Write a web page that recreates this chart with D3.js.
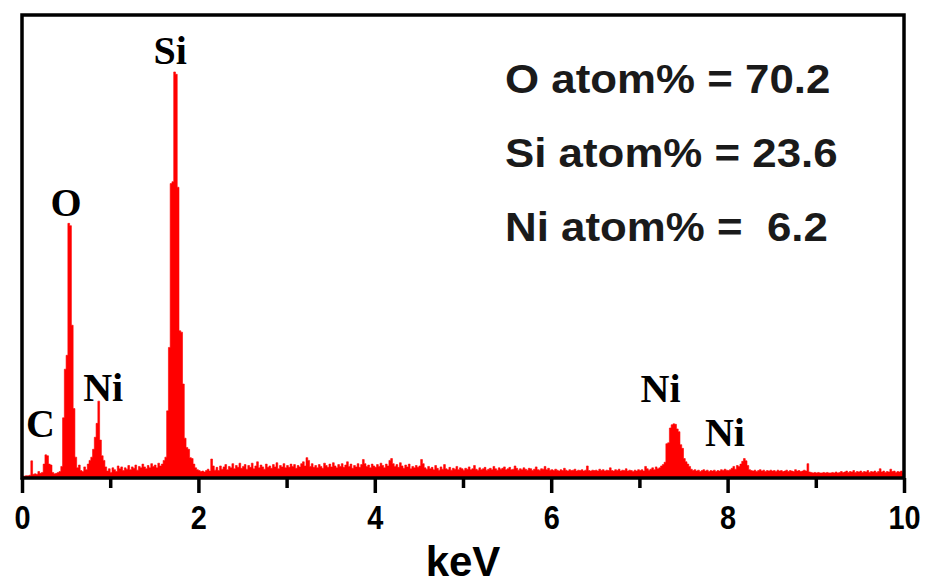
<!DOCTYPE html>
<html>
<head>
<meta charset="utf-8">
<script src="https://cdn.jsdelivr.net/npm/d3@7"></script>
<style>
  body { margin: 0; background: #fff; }
  svg { display: block; }
  .tick text { font-family: "Liberation Sans", Arial, sans-serif; font-weight: bold; }
</style>
</head>
<body>
<div id="chart"></div>
<script>
// EDS spectrum, counts per 0.02 keV channel
var channelWidth = 0.02;
var counts = [
  // 0.00 - 0.48
  4, 4, 5, 5, 6, 37, 8, 9, 8, 14, 10, 12, 30, 50, 48, 30, 28, 12, 9, 10, 12, 14, 25, 130, 235,
  // 0.50 - 0.98
  265, 550, 545, 330, 150, 45, 22, 28, 16, 14, 24, 18, 30, 38, 45, 62, 88, 118, 166, 82, 48, 38, 24, 15, 20,
  // 1.00 - 1.48
  12, 22, 18, 14, 26, 20, 24, 16, 22, 19, 27, 18, 24, 21, 28, 17, 25, 22, 30, 24, 20, 27, 22, 31, 25,
  // 1.50 - 1.98
  28, 22, 32, 26, 30, 38, 45, 145, 282, 636, 640, 877, 872, 628, 318, 315, 203, 86, 66, 62, 44, 42, 30, 22, 18,
  // 2.00 - 2.48
  16, 14, 15, 13, 16, 19, 15, 41, 26, 17, 23, 16, 26, 19, 24, 29, 18, 25, 22, 31, 20, 27, 23, 32, 21,
  // 2.50 - 2.98
  25, 29, 19, 27, 23, 32, 20, 26, 35, 22, 28, 24, 19, 30, 23, 26, 21, 29, 24, 33, 20, 27, 24, 31, 22,
  // 3.00 - 3.48
  27, 23, 30, 25, 29, 21, 27, 24, 31, 35, 26, 44, 38, 25, 31, 23, 27, 22, 29, 25, 21, 32, 27, 23, 30,
  // 3.50 - 3.98
  24, 33, 26, 22, 29, 25, 31, 23, 28, 35, 25, 30, 21, 27, 24, 31, 23, 29, 40, 31, 25, 28, 22, 30, 26,
  // 4.00 - 4.48
  23, 29, 25, 32, 27, 22, 30, 26, 38, 42, 31, 25, 29, 23, 33, 26, 21, 28, 24, 30, 20, 25, 22, 27, 23,
  // 4.50 - 4.98
  26, 40, 31, 22, 19, 25, 20, 23, 18, 27, 21, 17, 24, 19, 29, 20, 18, 23, 17, 21, 19, 25, 18, 22, 20,
  // 5.00 - 5.48
  17, 21, 19, 24, 18, 20, 27, 19, 17, 22, 18, 20, 23, 17, 19, 21, 18, 25, 20, 17, 22, 19, 21, 24, 18,
  // 5.50 - 5.98
  20, 23, 18, 19, 26, 21, 17, 20, 18, 22, 19, 17, 21, 20, 16, 19, 24, 18, 17, 20, 19, 25, 18, 21, 17,
  // 6.00 - 6.48
  18, 16, 19, 17, 15, 18, 16, 21, 17, 15, 18, 16, 17, 19, 15, 17, 16, 18, 15, 17, 26, 16, 15, 17, 16,
  // 6.50 - 6.98
  17, 15, 19, 16, 18, 15, 17, 16, 22, 16, 15, 18, 16, 19, 15, 17, 16, 20, 15, 17, 16, 14, 17, 15, 18,
  // 7.00 - 7.48
  16, 18, 15, 25, 20, 17, 19, 22, 18, 24, 20, 22, 26, 29, 34, 74, 76, 108, 115, 117, 116, 106, 100, 72, 64,
  // 7.50 - 7.98
  42, 35, 30, 25, 19, 16, 18, 15, 17, 14, 16, 18, 15, 17, 14, 16, 15, 17, 14, 16, 15, 18, 16, 19, 17,
  // 8.00 - 8.48
  16, 18, 21, 25, 19, 27, 25, 30, 36, 42, 37, 27, 18, 16, 15, 17, 14, 16, 18, 15, 17, 14, 16, 15, 17,
  // 8.50 - 8.98
  15, 16, 14, 17, 15, 16, 14, 15, 17, 14, 16, 15, 14, 18, 15, 16, 14, 15, 17, 15, 31, 13, 12, 11, 12,
  // 9.00 - 9.48
  11, 12, 11, 11, 12, 11, 12, 11, 11, 12, 11, 13, 11, 12, 14, 12, 13, 15, 12, 14, 13, 16, 12, 14, 13,
  // 9.50 - 9.98
  15, 12, 14, 13, 16, 12, 14, 13, 15, 12, 14, 20, 13, 15, 12, 14, 13, 19, 14, 15, 12, 14, 13, 15, 12
];

var majorTicks = [0, 2, 4, 6, 8, 10];
var minorTicks = [1, 3, 5, 7, 9];

// peak labels: element, energy (keV), label height (counts)
var peakLabels = ["C", "O", "Ni", "Si", "Ni", "Ni"];
var peakEnergies = [0.21, 0.50, 0.92, 1.68, 7.24, 7.97];
var peakLabelCounts = [88, 565, 167, 895, 165, 70];

var atomLines = ["O atom% = 70.2", "Si atom% = 23.6", "Ni atom% =  6.2"];

function buildChart() {
    var svgWidth = 930;
    var svgHeight = 585;
    var margin = { top: 15, right: 26, bottom: 107, left: 22 };
    var chartWidth = svgWidth - margin.left - margin.right;
    var chartHeight = svgHeight - margin.top - margin.bottom;

    var svg = d3.select("#chart").append("svg")
        .attr("width", svgWidth)
        .attr("height", svgHeight);

    var chartGroup = svg.append("g")
        .attr("transform", `translate(${margin.left}, ${margin.top})`);

    var xScale = d3.scaleLinear().domain([0, 10]).range([0, chartWidth]);
    var yScale = d3.scaleLinear().domain([0, 1000]).range([chartHeight, 0]);

    // channel data, plus closing point at 10 keV
    var data = counts.map((c, i) => ({ e: i * channelWidth, c: c }));
    data.push({ e: 10, c: counts[counts.length - 1] });

    chartGroup.append("clipPath").attr("id", "plotClip")
        .append("rect").attr("width", chartWidth).attr("height", chartHeight);

    var area = d3.area()
        .curve(d3.curveStepAfter)
        .x(d => xScale(d.e))
        .y0(yScale(0))
        .y1(d => yScale(d.c));

    chartGroup.append("path")
        .datum(data)
        .attr("clip-path", "url(#plotClip)")
        .attr("fill", "#ff0000")
        .attr("stroke", "#ff0000")
        .attr("stroke-width", 0.6)
        .attr("d", area);

    // frame
    chartGroup.append("rect")
        .attr("width", chartWidth)
        .attr("height", chartHeight)
        .attr("fill", "none")
        .attr("stroke", "#000")
        .attr("stroke-width", 3.5);

    // minor ticks
    var minorAxis = d3.axisBottom(xScale)
        .tickValues(minorTicks)
        .tickSize(10)
        .tickFormat("");
    chartGroup.append("g")
        .attr("transform", `translate(0, ${chartHeight})`)
        .call(minorAxis)
        .call(g => g.select(".domain").remove())
        .selectAll("line").attr("stroke-width", 3.5);

    // major ticks + labels
    var xAxis = d3.axisBottom(xScale)
        .tickValues(majorTicks)
        .tickSize(15)
        .tickPadding(12)
        .tickFormat(d3.format("d"));
    var axisG = chartGroup.append("g")
        .attr("transform", `translate(0, ${chartHeight})`)
        .call(xAxis);
    axisG.select(".domain").remove();
    axisG.selectAll("line").attr("stroke-width", 3.5);
    axisG.selectAll("text")
        .attr("font-size", 34)
        .attr("fill", "#000")
        .attr("transform", "scale(0.85,1)");

    // axis title
    svg.append("text")
        .attr("x", margin.left + chartWidth / 2)
        .attr("y", 576)
        .attr("text-anchor", "middle")
        .attr("font-family", "Liberation Sans, Arial, sans-serif")
        .attr("font-weight", "bold")
        .attr("font-size", 42)
        .text("keV");

    // element labels
    chartGroup.append("g")
        .selectAll("text")
        .data(peakLabels)
        .enter()
        .append("text")
        .attr("x", (d, i) => xScale(peakEnergies[i]))
        .attr("y", (d, i) => yScale(peakLabelCounts[i]))
        .attr("text-anchor", "middle")
        .attr("font-family", "Liberation Serif, Times New Roman, serif")
        .attr("font-weight", "bold")
        .attr("font-size", 40)
        .text(d => d);

    // composition text, slightly stretched like the original
    chartGroup.append("g")
        .attr("transform", "translate(483, 0) scale(1.07, 1)")
        .selectAll("text")
        .data(atomLines)
        .enter()
        .append("text")
        .attr("x", 0)
        .attr("y", (d, i) => 78 + i * 74)
        .attr("xml:space", "preserve")
        .style("white-space", "pre")
        .attr("font-family", "Liberation Sans, Arial, sans-serif")
        .attr("font-weight", "bold")
        .attr("font-size", 41)
        .attr("fill", "#1a1a1a")
        .text(d => d);
}

buildChart();
</script>
</body>
</html>
